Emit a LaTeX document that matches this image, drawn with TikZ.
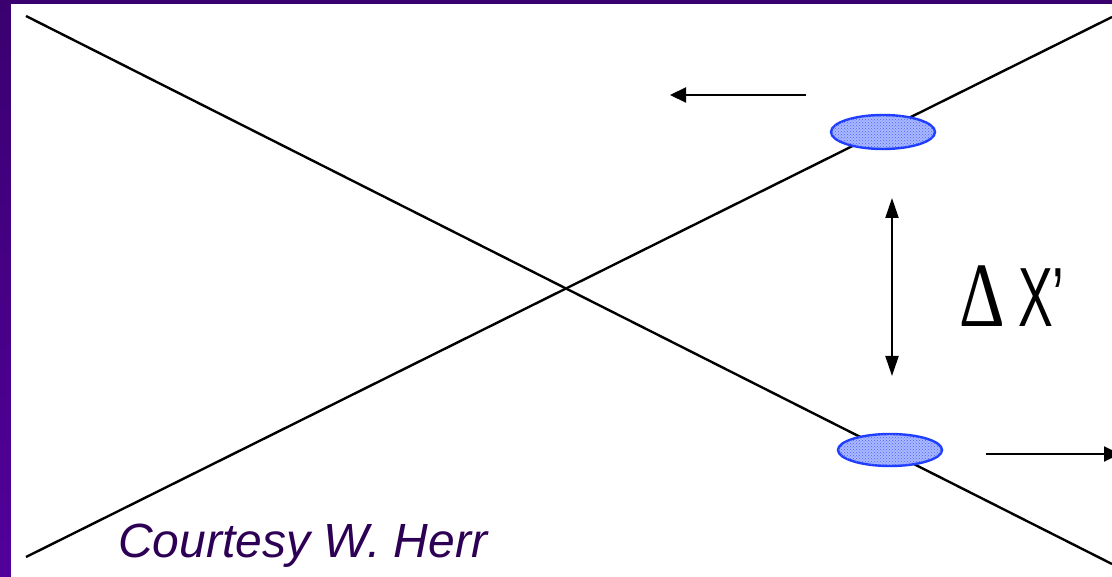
\documentclass[tikz,border=0pt]{standalone}
\usepackage{fontspec}
\setmainfont{Liberation Sans}
\newfontfamily\deltafont{Liberation Serif}
\usetikzlibrary{arrows.meta,shapes.geometric,patterns}
\definecolor{framepurple}{RGB}{58,0,112}
\definecolor{framepurpleB}{RGB}{82,0,155}
\definecolor{credit}{RGB}{45,0,85}
\definecolor{beamblue}{RGB}{30,60,255}
\definecolor{beamfill}{RGB}{170,185,255}
\tikzset{
  axisline/.style={line width=2.4pt,black},
  beam/.style={ellipse,draw=beamblue,line width=2.4pt,fill=beamfill,
    postaction={pattern=crosshatch dots,pattern color=beamblue!80},
    minimum width=104pt,minimum height=34pt,inner sep=0pt},
  motion/.style={line width=2.2pt,-{Triangle[length=16pt,width=15pt]}},
  sepr/.style={line width=2.2pt,{Triangle[length=20pt,width=13pt]}-{Triangle[length=20pt,width=13pt]}},
  bigtext/.style={anchor=base west,inner sep=0pt},
}
\begin{document}
\begin{tikzpicture}[x=1pt,y=-1pt]
\useasboundingbox (0,0) rectangle (1112,577);
% frame
\fill[framepurple] (0,0) rectangle (1112,577);
\shade[top color=framepurple,bottom color=framepurpleB] (0,0) rectangle (11,577);
\fill[white] (11,4) rectangle (1112,577);
% crossing lines
\coordinate (a1) at (26,16);
\coordinate (a2) at (1112,564);
\coordinate (b1) at (26,557);
\coordinate (b2) at (1112,17);
\draw[axisline] (a1) -- (a2);
\draw[axisline] (b1) -- (b2);
% beams
\node[beam] (up) at (883,132) {};
\node[beam,minimum height=32pt] (lo) at (890,450) {};
% motion arrows
\coordinate (ua1) at (806,95);
\coordinate (ua2) at (670,95);
\draw[motion] (ua1) -- (ua2);
\coordinate (la1) at (986,454);
\coordinate (la2) at (1120,454);
\draw[motion] (la1) -- (la2);
% separation arrow
\coordinate (s1) at (892,198);
\coordinate (s2) at (892,376);
\draw[sepr] (s1) -- (s2);
\node[bigtext,font=\deltafont\fontsize{92}{92}\selectfont,xscale=0.77] (dl) at (959,327) {Δ};
\node[bigtext,font=\fontsize{84}{84}\selectfont,xscale=0.62] (xp) at (1018,327) {X’};
% credit
\node[bigtext,text=credit,font=\fontsize{48}{48}\selectfont\itshape] (cr) at (118,557) {Courtesy W. Herr};
\end{tikzpicture}
\end{document}
